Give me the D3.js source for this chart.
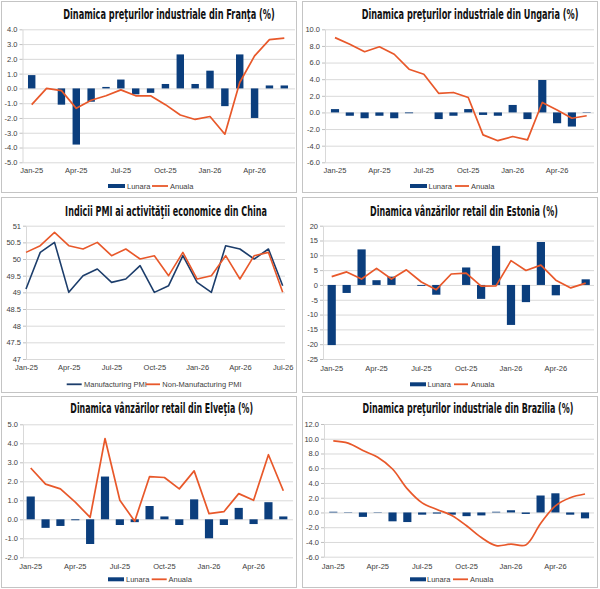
<!DOCTYPE html>
<html><head><meta charset="utf-8">
<script src="https://cdn.jsdelivr.net/npm/d3@7"></script>
<style>
html,body{margin:0;padding:0;background:#fff;}
svg{display:block;}
</style></head>
<body>
<script>
// ---------- DATA ----------
const months18 = ["Jan-25","Feb-25","Mar-25","Apr-25","May-25","Jun-25","Jul-25","Aug-25","Sep-25","Oct-25","Nov-25","Dec-25","Jan-26","Feb-26","Mar-26","Apr-26","May-26","Jun-26"];
const months19 = ["Jan-25","Feb-25","Mar-25","Apr-25","May-25","Jun-25","Jul-25","Aug-25","Sep-25","Oct-25","Nov-25","Dec-25","Jan-26","Feb-26","Mar-26","Apr-26","May-26","Jun-26","Jul-26"];
const xTicks = ["Jan-25","Apr-25","Jul-25","Oct-25","Jan-26","Apr-26"];
const xTicksChina = ["Jan-25","Apr-25","Jul-25","Oct-25","Jan-26","Apr-26","Jul-26"];

const franceMonthly = [0.9,0.0,-1.1,-3.8,-0.9,0.1,0.6,-0.4,-0.3,0.3,2.3,0.3,1.2,-1.2,2.3,-2.0,0.2,0.2];
const franceAnnual  = [-1.1,0.0,-0.15,-1.35,-0.8,-0.5,-0.1,-0.5,-0.5,-1.1,-1.8,-2.1,-1.9,-3.1,0.4,2.2,3.3,3.4];

const hungaryMonthly = [0.4,-0.4,-0.7,-0.4,-0.7,-0.1,0.0,-0.8,-0.4,0.4,-0.3,-0.4,0.9,-0.8,3.9,-1.3,-1.7,0.05];
const hungaryAnnual  = [9.0,8.2,7.3,7.9,7.0,5.2,4.6,2.3,2.4,1.8,-2.7,-3.4,-2.9,-3.3,1.2,0.3,-0.7,-0.4];

const chinaManufacturing    = [49.1,50.2,50.5,49.0,49.5,49.7,49.3,49.4,49.8,49.0,49.2,50.1,49.3,49.0,50.4,50.3,50.0,50.3,49.2];
const chinaNonManufacturing = [50.2,50.4,50.8,50.4,50.3,50.5,50.1,50.3,50.0,50.1,49.5,50.2,49.4,49.5,50.1,49.4,50.1,50.2,49.0];

const estoniaMonthly = [-20.3,-2.7,12.0,1.6,2.8,0.0,-0.3,-3.3,0.0,5.9,-4.7,13.2,-13.5,-5.8,14.5,-3.5,0.0,1.9];
const estoniaAnnual  = [2.8,4.4,2.0,5.6,2.0,5.1,1.0,-1.6,3.7,4.0,-0.4,-0.3,8.2,4.9,6.7,1.6,-1.0,0.6];

const swissMonthly = [1.2,-0.45,-0.35,-0.05,-1.3,2.25,-0.3,-0.15,0.7,0.15,-0.3,1.05,-1.0,-0.3,0.6,-0.25,0.9,0.15];
const swissAnnual  = [2.7,1.85,1.6,0.9,0.1,4.25,1.0,-0.1,2.25,2.2,1.6,2.55,0.3,0.4,1.35,1.0,3.4,1.5];

const brazilMonthly = [0.1,-0.05,-0.6,-0.05,-1.2,-1.3,-0.3,-0.15,-0.3,-0.5,-0.4,0.1,0.3,-0.2,2.3,2.6,-0.3,-0.8];
const brazilAnnual  = [9.7,9.4,8.4,7.5,5.9,3.2,1.3,0.4,-0.4,-1.8,-3.4,-4.5,-4.3,-4.4,-1.5,0.9,2.0,2.5];

const franceYTicks  = [-5,-4,-3,-2,-1,0,1,2,3,4];
const hungaryYTicks = [-6,-4,-2,0,2,4,6,8,10];
const chinaYTicks   = [47,47.5,48,48.5,49,49.5,50,50.5,51];
const estoniaYTicks = [-25,-20,-15,-10,-5,0,5,10,15,20];
const swissYTicks   = [-2,-1,0,1,2,3,4,5];
const brazilYTicks  = [-6,-4,-2,0,2,4,6,8,10,12];

const legendBars = ["Lunara","Anuala"];
const legendChina = ["Manufacturing PMI","Non-Manufacturing PMI"];

// ---------- STYLE ----------
const BLUE = "#0b3e7d";
const NAVY = "#1c3d6b";
const ORANGE = "#e8582a";
const GRID = "#d9d9d9";
const TXT = "#404040";
const AXFONT = "Liberation Sans, Arial, sans-serif";
const TFONT = "'DejaVu Sans Condensed','DejaVu Sans',sans-serif";

const svg = d3.select("body").append("svg").attr("width",600).attr("height",589);

const fmt1 = d => d.toFixed(1);
const fmtInt = d => String(d);

function panel(cfg){
  const g = svg.append("g");
  g.append("rect").attr("x",cfg.box[0]+0.5).attr("y",cfg.box[1]+0.5)
    .attr("width",cfg.box[2]).attr("height",cfg.box[3])
    .attr("fill","#fff").attr("stroke","#c4c4c4").attr("stroke-width",1);

  const t = g.append("text").attr("x",0).attr("y",0)
    .attr("text-anchor","middle").attr("font-family",TFONT).attr("font-weight","bold")
    .attr("font-size",14).attr("fill","#111")
    .text(cfg.title);
  const nat = t.node().getComputedTextLength();
  t.attr("transform",`translate(${cfg.titleX},${cfg.titleY}) scale(${cfg.titleW/nat},1)`);

  const y = d3.scaleLinear().domain(cfg.yDomain).range([cfg.yBottom,cfg.yTop]);
  let x, xc;
  if(cfg.point){
    x = d3.scalePoint().domain(cfg.cats).range(cfg.xRange);
    xc = d => x(d);
  } else {
    x = d3.scaleBand().domain(cfg.cats).range(cfg.xRange).paddingInner(cfg.pad).paddingOuter(cfg.pad/2);
    xc = d => x(d) + x.bandwidth()/2;
  }
  const gx0 = cfg.gridX[0], gx1 = cfg.gridX[1];

  const ya = g.append("g").attr("transform",`translate(${gx0},0)`)
    .call(d3.axisLeft(y).tickValues(cfg.yTicks).tickFormat(cfg.yFmt)
      .tickSizeInner(-(gx1-gx0)).tickSizeOuter(0).tickPadding(5));
  ya.select(".domain").attr("stroke",GRID);
  ya.selectAll(".tick line").attr("stroke",GRID).attr("stroke-width",1);
  ya.selectAll(".tick text").attr("fill",TXT).attr("font-family",AXFONT).attr("font-size",7.5);
  const yt = g.append("g").attr("transform",`translate(${gx0},0)`)
    .call(d3.axisLeft(y).tickValues(cfg.yTicks).tickFormat("").tickSize(3));
  yt.select(".domain").remove();
  yt.selectAll(".tick line").attr("stroke","#bfbfbf");

  const xa = g.append("g").attr("transform",`translate(0,${cfg.yBottom})`)
    .call(d3.axisBottom(x).tickValues(cfg.xTicks).tickSize(0));
  xa.select(".domain").remove();
  if(!cfg.point){ xa.selectAll(".tick").attr("transform", d => `translate(${xc(d)},0)`); }
  xa.selectAll(".tick text").attr("y",cfg.xLabelY - cfg.yBottom).attr("dy","0.35em")
    .attr("fill",TXT).attr("font-family",AXFONT).attr("font-size",7.5);

  if(cfg.bars){
    g.append("g").selectAll("rect").data(cfg.bars).join("rect")
      .attr("x",(d,i)=>x(cfg.cats[i]))
      .attr("width",x.bandwidth())
      .attr("y",d=>y(Math.max(0,d)))
      .attr("height",d=>Math.abs(y(d)-y(0)))
      .attr("fill",BLUE);
  }
  cfg.lines.forEach(L=>{
    const line = d3.line().x((d,i)=>xc(cfg.cats[i])).y(d=>y(d));
    if(L.smooth) line.curve(d3.curveCatmullRom.alpha(0.5));
    g.append("path").datum(L.values).attr("d",line)
      .attr("fill","none").attr("stroke",L.color).attr("stroke-width",L.width||1.7)
      .attr("stroke-linejoin","round");
  });

  const lg = g.append("g").attr("font-family",AXFONT).attr("font-size",7.5).attr("fill",TXT);
  cfg.legend.forEach(it=>{
    if(it.type==="bar"){
      lg.append("rect").attr("x",it.x).attr("y",cfg.legendY-2).attr("width",it.w).attr("height",4).attr("fill",it.color);
    } else {
      lg.append("line").attr("x1",it.x).attr("x2",it.x+it.w).attr("y1",cfg.legendY).attr("y2",cfg.legendY)
        .attr("stroke",it.color).attr("stroke-width",1.8);
    }
    lg.append("text").attr("x",it.tx).attr("y",cfg.legendY).attr("dy","0.35em").text(it.label);
  });
}

function bandRange(c0,cN,n){ const s=(cN-c0)/(n-1); return [c0-s/2,cN+s/2]; }

panel({
  box:[1,1,295,191], title:"Dinamica preţurilor industriale din Franţa (%)", titleX:169, titleY:18.5, titleW:212,
  cats:months18, xRange:bandRange(31.7,284.3,18), pad:0.5, gridX:[22.5,295],
  yDomain:[-5,4], yTop:29.3, yBottom:162.3, yTicks:franceYTicks, yFmt:fmt1,
  xTicks:xTicks, xLabelY:170,
  bars:franceMonthly, lines:[{values:franceAnnual,color:ORANGE}],
  legendY:186,
  legend:[{type:"bar",x:108,w:17,color:BLUE,tx:127,label:legendBars[0]},
          {type:"line",x:152,w:16,color:ORANGE,tx:170,label:legendBars[1]}]
});
panel({
  box:[302,1,295,191], title:"Dinamica preţurilor industriale din Ungaria (%)", titleX:470, titleY:18.5, titleW:217,
  cats:months18, xRange:bandRange(335,586.7,18), pad:0.45, gridX:[325,594],
  yDomain:[-6,10], yTop:29.3, yBottom:162.3, yTicks:hungaryYTicks, yFmt:fmt1,
  xTicks:xTicks, xLabelY:170,
  bars:hungaryMonthly, lines:[{values:hungaryAnnual,color:ORANGE}],
  legendY:186,
  legend:[{type:"bar",x:410,w:17,color:BLUE,tx:428.5,label:legendBars[0]},
          {type:"line",x:455,w:14,color:ORANGE,tx:471,label:legendBars[1]}]
});
panel({
  box:[1,197,295,195], title:"Indicii PMI ai activităţii economice din China", titleX:166, titleY:215.5, titleW:202,
  cats:months19, point:true, xRange:[26,282.7], gridX:[26,285],
  yDomain:[47,51], yTop:225.7, yBottom:359, yTicks:chinaYTicks, yFmt:fmtInt,
  xTicks:xTicksChina, xLabelY:367.5,
  lines:[{values:chinaManufacturing,color:NAVY,width:1.6},{values:chinaNonManufacturing,color:ORANGE,width:1.6}],
  legendY:384.3,
  legend:[{type:"line",x:66.7,w:15,color:NAVY,tx:84,label:legendChina[0]},
          {type:"line",x:146,w:14,color:ORANGE,tx:162.3,label:legendChina[1]}]
});
panel({
  box:[302,197,295,195], title:"Dinamica vânzărilor retail din Estonia (%)", titleX:464, titleY:215.5, titleW:188,
  cats:months18, xRange:bandRange(331.7,585.7,18), pad:0.45, gridX:[323,594],
  yDomain:[-25,20], yTop:225.7, yBottom:359, yTicks:estoniaYTicks, yFmt:fmtInt,
  xTicks:xTicks, xLabelY:368,
  bars:estoniaMonthly, lines:[{values:estoniaAnnual,color:ORANGE}],
  legendY:384.3,
  legend:[{type:"bar",x:410,w:16,color:BLUE,tx:427.5,label:legendBars[0]},
          {type:"line",x:454,w:14,color:ORANGE,tx:471,label:legendBars[1]}]
});
panel({
  box:[1,396,295,191], title:"Dinamica vânzărilor retail din Elveţia (%)", titleX:161.7, titleY:413.3, titleW:183,
  cats:months18, xRange:bandRange(30.7,283.3,18), pad:0.45, gridX:[23,293],
  yDomain:[-2,5], yTop:424.3, yBottom:557.3, yTicks:swissYTicks, yFmt:fmt1,
  xTicks:xTicks, xLabelY:566.7,
  bars:swissMonthly, lines:[{values:swissAnnual,color:ORANGE}],
  legendY:579.3,
  legend:[{type:"bar",x:108,w:16,color:BLUE,tx:126,label:legendBars[0]},
          {type:"line",x:151.7,w:15,color:ORANGE,tx:168.5,label:legendBars[1]}]
});
panel({
  box:[302,396,295,191], title:"Dinamica preţurilor industriale din Brazilia (%)", titleX:468, titleY:412.7, titleW:211,
  cats:months18, xRange:bandRange(333.3,585,18), pad:0.45, gridX:[324,594],
  yDomain:[-6,12], yTop:424, yBottom:556.7, yTicks:brazilYTicks, yFmt:fmt1,
  xTicks:xTicks, xLabelY:566,
  bars:brazilMonthly, lines:[{values:brazilAnnual,color:ORANGE,smooth:true}],
  legendY:579.3,
  legend:[{type:"bar",x:410,w:16,color:BLUE,tx:427,label:legendBars[0]},
          {type:"line",x:453,w:15,color:ORANGE,tx:470,label:legendBars[1]}]
});
</script>
</body></html>
